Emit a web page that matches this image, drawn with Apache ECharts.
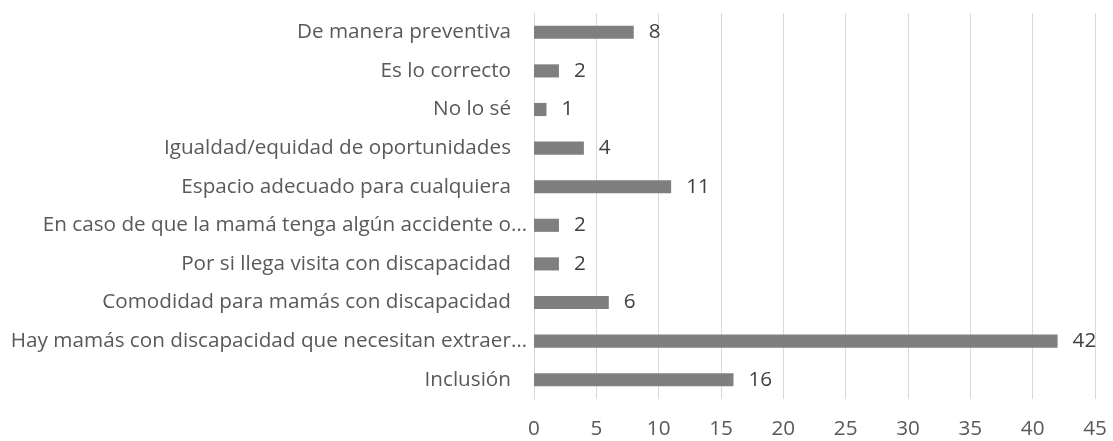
<!DOCTYPE html>
<html><head><meta charset="utf-8">
<script src="https://cdn.jsdelivr.net/npm/echarts@6/dist/echarts.min.js"></script>
<style>html,body{margin:0;padding:0;background:#fff}#c{width:1113px;height:441px}</style>
</head><body><div id="c"></div>
<script>
const categories = [
  "Inclusión",
  "Hay mamás con discapacidad que necesitan extraer…",
  "Comodidad para mamás con discapacidad",
  "Por si llega visita con discapacidad",
  "En caso de que la mamá tenga algún accidente o…",
  "Espacio adecuado para cualquiera",
  "Igualdad/equidad de oportunidades",
  "No lo sé",
  "Es lo correcto",
  "De manera preventiva"
];
const values = [16, 42, 6, 2, 2, 11, 4, 1, 2, 8];
const xTicks = {min: 0, max: 45, interval: 5};
const FONT = "Open Sans";
const FS = 20.7;
const chart = echarts.init(document.getElementById('c'));
chart.setOption({
  animation: false,
  grid: {left: 534, right: 18, top: 13, bottom: 42, containLabel: false},
  xAxis: {
    type: 'value', min: xTicks.min, max: xTicks.max, interval: xTicks.interval,
    axisLine: {show: false}, axisTick: {show: false},
    splitLine: {show: true, lineStyle: {color: '#d9d9d9', width: 1}},
    axisLabel: {color: '#595959', fontFamily: FONT, fontSize: FS, margin: 20}
  },
  yAxis: {
    type: 'category', data: categories,
    axisLine: {show: true, lineStyle: {color: '#d9d9d9', width: 1}},
    axisTick: {show: false},
    axisLabel: {
      color: '#595959', fontFamily: FONT, fontSize: FS, margin: 7,
      formatter: v => v.endsWith('…') ? '{e|' + v + '}' : '{n|' + v + '}',
      rich: {
        n: {color: '#595959', fontFamily: FONT, fontSize: FS, padding: [0, 16, 0, 0]},
        e: {color: '#595959', fontFamily: FONT, fontSize: FS}
      }
    }
  },
  series: [{
    type: 'bar', data: values, barCategoryGap: '66%',
    itemStyle: {color: '#7f7f7f'},
    label: {show: true, position: 'right', distance: 15, color: '#404040', fontFamily: FONT, fontSize: FS}
  }]
});
</script></body></html>
